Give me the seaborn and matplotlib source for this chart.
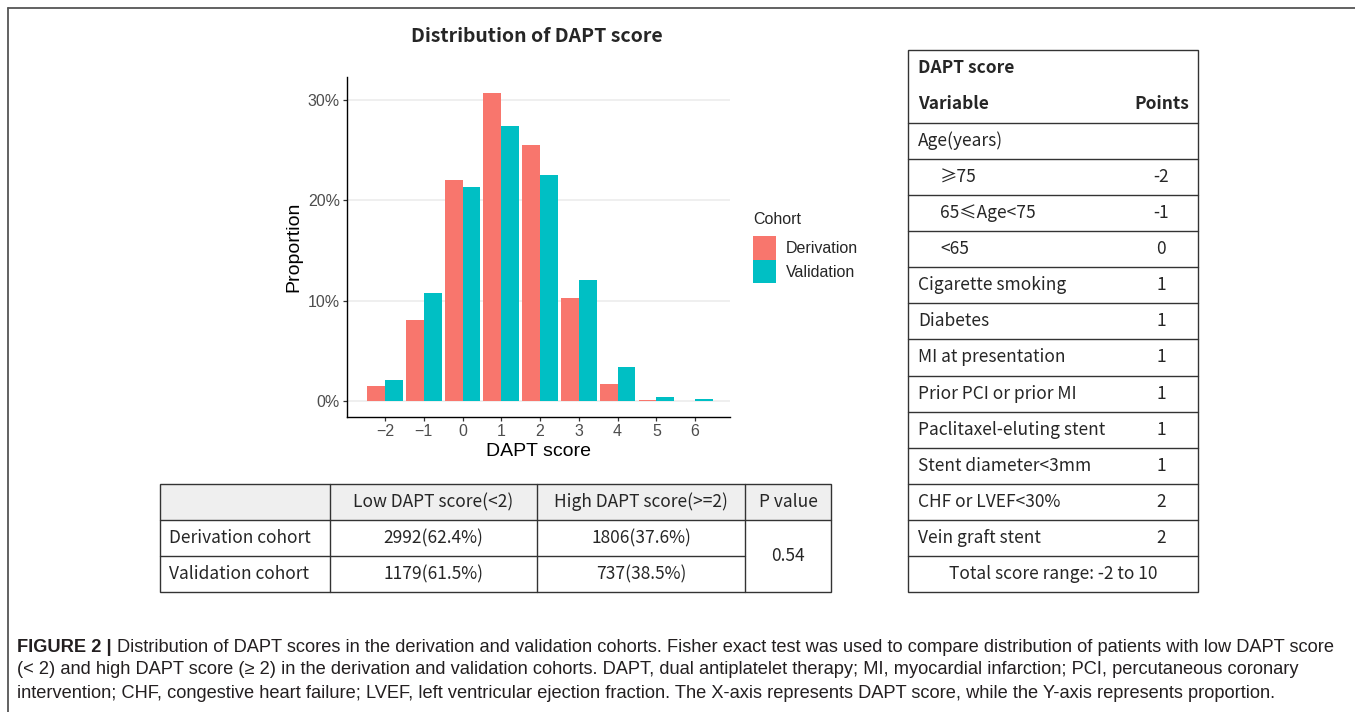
import numpy as np
import pandas as pd
import matplotlib
matplotlib.use("Agg")
import matplotlib.pyplot as plt
import seaborn as sns
from matplotlib.patches import Rectangle

# bar chart data (percent of each cohort)
scores = ["-2", "-1", "0", "1", "2", "3", "4", "5", "6"]
derivation = [1.5, 8.1, 22.0, 30.7, 25.5, 10.3, 1.7, 0.1, 0.02]
validation = [2.1, 10.8, 21.3, 27.4, 22.5, 12.1, 3.4, 0.4, 0.15]
cohorts = ["Derivation", "Validation"]
cohort_colors = ["#F8766D", "#00BFC4"]

# DAPT score table
score_vars = ["Age(years)", "≥75", "65≤Age<75", "<65", "Cigarette smoking",
              "Diabetes", "MI at presentation", "Prior PCI or prior MI",
              "Paclitaxel-eluting stent", "Stent diameter<3mm",
              "CHF or LVEF<30%", "Vein graft stent"]
score_points = ["", "-2", "-1", "0", "1", "1", "1", "1", "1", "1", "2", "2"]
score_indent = [False, True, True, True] + [False] * 8

# low / high table
grp_header = ["", "Low DAPT score(<2)", "High DAPT score(>=2)", "P value"]
grp_rows = ["Derivation cohort", "Validation cohort"]
grp_low = ["2992(62.4%)", "1179(61.5%)"]
grp_high = ["1806(37.6%)", "737(38.5%)"]
p_value = "0.54"

caption_lines = [
    "Distribution of DAPT scores in the derivation and validation cohorts. Fisher exact test was used to compare distribution of patients with low DAPT score",
    "(< 2) and high DAPT score (≥ 2) in the derivation and validation cohorts. DAPT, dual antiplatelet therapy; MI, myocardial infarction; PCI, percutaneous coronary",
    "intervention; CHF, congestive heart failure; LVEF, left ventricular ejection fraction. The X-axis represents DAPT score, while the Y-axis represents proportion.",
]

df = pd.DataFrame({
    "score": scores * 2,
    "prop": derivation + validation,
    "cohort": [cohorts[0]] * len(scores) + [cohorts[1]] * len(scores),
})

sns.set_theme(style="white")
plt.rcParams["font.family"] = ["Liberation Sans", "DejaVu Sans"]
cjk = ["Noto Sans CJK SC", "DejaVu Sans"]

W, H = 1355, 712
fig = plt.figure(figsize=(W / 100, H / 100), dpi=100)
fig.patch.set_facecolor("white")


def rect(x0, y0, x1, y1):
    return [x0 / W, 1 - y1 / H, (x1 - x0) / W, (y1 - y0) / H]


# ---- bar chart
ax = fig.add_axes(rect(347, 77, 730, 417))
sns.barplot(data=df, x="score", y="prop", hue="cohort", order=scores,
            hue_order=cohorts, palette=cohort_colors, width=0.92,
            saturation=1, linewidth=0, ax=ax)
ax.set_xlim(-0.98, 8.9)
ax.set_ylim(-1.6, 32.3)
ax.set_yticks([0, 10, 20, 30])
ax.set_yticklabels([f"{v}%" for v in [0, 10, 20, 30]])
ax.set_xticks(range(len(scores)))
ax.set_xticklabels([s.replace("-", "\u2212") for s in scores])
ax.tick_params(axis="both", length=3, width=0.9, color="#333333",
               labelsize=11.5, labelcolor="#4D4D4D", pad=2,
               bottom=True, left=True)
ax.yaxis.grid(True, color="#EBEBEB", lw=1.1)
ax.set_axisbelow(True)
for s in ["top", "right"]:
    ax.spines[s].set_visible(False)
for s in ["left", "bottom"]:
    ax.spines[s].set_color("black")
    ax.spines[s].set_linewidth(1.0)
ax.set_xlabel("DAPT score", fontsize=14, color="black", labelpad=3)
ax.set_ylabel("Proportion", fontsize=14, color="black", labelpad=4)

handles, labels = ax.get_legend_handles_labels()
ax.get_legend().remove()
fig.text(753 / W, 1 - 220 / H, "Cohort", fontsize=11.5, va="center", ha="left")
fig.legend(handles, labels, loc="upper left",
           bbox_to_anchor=(753 / W, 1 - 236 / H), frameon=False,
           fontsize=11.5, handlelength=1.45, handleheight=1.9,
           handletextpad=0.6, labelspacing=0.0, borderpad=0,
           borderaxespad=0)

fig.text(537 / W, 1 - 37 / H, "Distribution of DAPT score", family=cjk,
         fontsize=14, fontweight="bold", ha="center", va="center")

# ---- overlay in pixel coords for the tables and caption
ov = fig.add_axes([0, 0, 1, 1], zorder=5)
ov.set_xlim(0, W)
ov.set_ylim(H, 0)
ov.axis("off")
ov.patch.set_alpha(0)

line_kw = dict(color="#333333", lw=1.0)
tfs = 12.5

# outer frame
ov.plot([8, W], [8, 8], color="#555555", lw=1.3)
ov.plot([8, 8], [8, H], color="#555555", lw=1.3)

# score table
tx0, tx1 = 908, 1198
ty_top, ty_head = 50, 123
row_h = (592 - ty_head) / 13
ov.add_patch(Rectangle((tx0, ty_top), tx1 - tx0, 592 - ty_top, fill=False, **line_kw))
ov.plot([tx0, tx1], [ty_head, ty_head], **line_kw)
ov.text(918, 68, "DAPT score", family=cjk, fontsize=tfs, fontweight="bold", va="center")
ov.text(918, 104, "Variable", family=cjk, fontsize=tfs, fontweight="bold", va="center")
ov.text(1189, 104, "Points", family=cjk, fontsize=tfs, fontweight="bold", va="center", ha="right")
for i, (v, p, ind) in enumerate(zip(score_vars, score_points, score_indent)):
    yc = ty_head + (i + 0.5) * row_h
    ov.text(940 if ind else 918, yc, v, family=cjk, fontsize=tfs, va="center")
    ov.text(1161, yc, p, family=cjk, fontsize=tfs, va="center", ha="center")
    yl = ty_head + (i + 1) * row_h
    ov.plot([tx0, tx1], [yl, yl], **line_kw)
ov.text(1053, ty_head + 12.5 * row_h, "Total score range: -2 to 10", family=cjk,
        fontsize=tfs, va="center", ha="center")

# low / high table
cx = [160, 330, 537, 745, 831]
ry = [484, 520, 556, 592]
ov.add_patch(Rectangle((cx[0], ry[0]), cx[-1] - cx[0], ry[1] - ry[0],
                       facecolor="#EFEFEF", edgecolor="none"))
ov.add_patch(Rectangle((cx[0], ry[0]), cx[-1] - cx[0], ry[-1] - ry[0], fill=False, **line_kw))
ov.plot([cx[0], cx[-1]], [ry[1], ry[1]], **line_kw)
ov.plot([cx[0], cx[3]], [ry[2], ry[2]], **line_kw)
for x in cx[1:4]:
    ov.plot([x, x], [ry[0], ry[-1]], **line_kw)
for j, h in enumerate(grp_header):
    ov.text((cx[j] + cx[j + 1]) / 2, (ry[0] + ry[1]) / 2, h, family=cjk,
            fontsize=tfs, ha="center", va="center")
for i in range(2):
    yc = (ry[i + 1] + ry[i + 2]) / 2
    ov.text(169, yc, grp_rows[i], family=cjk, fontsize=tfs, va="center")
    ov.text((cx[1] + cx[2]) / 2, yc, grp_low[i], family=cjk, fontsize=tfs, ha="center", va="center")
    ov.text((cx[2] + cx[3]) / 2, yc, grp_high[i], family=cjk, fontsize=tfs, ha="center", va="center")
ov.text((cx[3] + cx[4]) / 2, ry[2], p_value, family=cjk, fontsize=tfs, ha="center", va="center")

# caption, scaled so the first line spans the frame width
cap_family = ["Liberation Sans Narrow", "Liberation Sans", "DejaVu Sans"]
cap_ys = [647, 670, 693]
fs = 12
bold = ov.text(17, cap_ys[0], "FIGURE 2 | ", family=cap_family, fontsize=fs,
               fontweight="bold", va="center", color="#231F20")
caps = [ov.text(17, y, t, family=cap_family, fontsize=fs, va="center", color="#231F20")
        for y, t in zip(cap_ys, caption_lines)]
fig.canvas.draw()
r = fig.canvas.get_renderer()
wb = bold.get_window_extent(r).width
w1 = caps[0].get_window_extent(r).width
scale = (1336 - 17) / (wb + w1)
for t in [bold] + caps:
    t.set_fontsize(fs * scale)
fig.canvas.draw()
wb = bold.get_window_extent(r).width
caps[0].set_x(17 + wb)

fig.savefig("out.png", dpi=100)
